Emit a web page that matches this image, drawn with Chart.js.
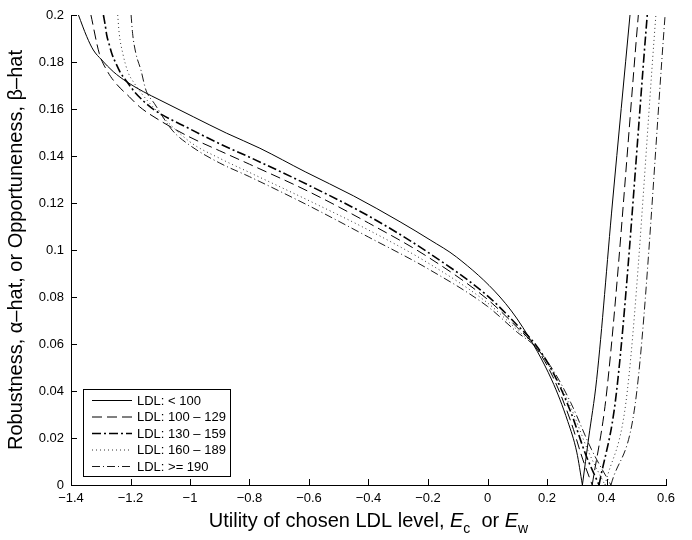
<!DOCTYPE html>
<html>
<head>
<meta charset="utf-8">
<script src="https://cdn.jsdelivr.net/npm/chart.js@4.4.0/dist/chart.umd.min.js"></script>
<style>
html, body { margin: 0; padding: 0; background: #fff; }
canvas { display: block; }
</style>
</head>
<body>
<canvas id="chart" width="692" height="540"></canvas>
<script>
const groups = ['LDL: < 100', 'LDL: 100 – 129', 'LDL: 130 – 159', 'LDL: 160 – 189', 'LDL: >= 190'];
const xTicks = [-1.4, -1.2, -1, -0.8, -0.6, -0.4, -0.2, 0, 0.2, 0.4, 0.6];
const yTicks = [0, 0.02, 0.04, 0.06, 0.08, 0.1, 0.12, 0.14, 0.16, 0.18, 0.2];

// robustness (left arm) and opportuneness (right arm), one pair per LDL group
const robX1 = [-1.375, -1.347, -1.325, -1.297, -1.258, -1.213, -1.157, -1.101, -0.989, -0.877, -0.765, -0.613, -0.45, -0.294, -0.193, -0.104, 0.042, 0.119, 0.216, 0.27, 0.30, 0.319];
const robY1 = [0.2, 0.1908, 0.1851, 0.1809, 0.1759, 0.1716, 0.1674, 0.1638, 0.1567, 0.1497, 0.1433, 0.1333, 0.123, 0.112, 0.1043, 0.097, 0.080, 0.067, 0.0447, 0.027, 0.014, 0];
const oppX1 = [0.319, 0.34, 0.367, 0.42, 0.479];
const oppY1 = [0, 0.02, 0.045, 0.12, 0.2];

const robX2 = [-1.333, -1.305, -1.277, -1.249, -1.204, -1.17, -1.1, -1.0, -0.9, -0.8, -0.6, -0.4, -0.2, 0, 0.1, 0.16, 0.22, 0.28, 0.32, 0.352];
const robY2 = [0.2, 0.1837, 0.1759, 0.1709, 0.1652, 0.161, 0.155, 0.148, 0.1422, 0.1365, 0.1248, 0.1115, 0.097, 0.079, 0.067, 0.059, 0.046, 0.027, 0.011, 0];
const oppX2 = [0.352, 0.401, 0.507];
const oppY2 = [0, 0.04, 0.2];

const robX3 = [-1.291, -1.285, -1.28, -1.271, -1.262, -1.249, -1.234, -1.212, -1.187, -1.154, -1.12, -1.0, -0.9, -0.8, -0.6, -0.4, -0.2, 0, 0.1, 0.16, 0.22, 0.28, 0.33, 0.375];
const robY3 = [0.2, 0.1957, 0.1915, 0.1872, 0.1833, 0.1794, 0.1755, 0.1716, 0.1674, 0.1631, 0.1596, 0.1515, 0.1452, 0.1395, 0.1275, 0.1145, 0.099, 0.0805, 0.068, 0.06, 0.048, 0.031, 0.013, 0];
const oppX3 = [0.375, 0.434, 0.537];
const oppY3 = [0, 0.04, 0.2];

const robX4 = [-1.243, -1.238, -1.226, -1.209, -1.187, -1.159, -1.125, -1.0, -0.9, -0.8, -0.6, -0.4, -0.2, 0, 0.1, 0.16, 0.22, 0.28, 0.34, 0.395];
const robY4 = [0.2, 0.1922, 0.1837, 0.1759, 0.1709, 0.166, 0.161, 0.146, 0.139, 0.133, 0.121, 0.1085, 0.0945, 0.0775, 0.066, 0.059, 0.048, 0.033, 0.014, 0];
const oppX4 = [0.395, 0.47, 0.566];
const oppY4 = [0, 0.04, 0.2];

const robX5 = [-1.198, -1.193, -1.182, -1.165, -1.148, -1.12, -1.06, -1.0, -0.9, -0.8, -0.6, -0.4, -0.2, 0, 0.1, 0.16, 0.22, 0.28, 0.35, 0.415];
const robY5 = [0.2, 0.1922, 0.1837, 0.1766, 0.168, 0.1624, 0.151, 0.1445, 0.137, 0.1312, 0.1188, 0.1055, 0.092, 0.076, 0.065, 0.059, 0.049, 0.035, 0.015, 0];
const oppX5 = [0.415, 0.502, 0.597];
const oppY5 = [0, 0.04, 0.2];

const styles = [
    { dash: [], width: 1 },
    { dash: [10, 5], width: 1 },
    { dash: [9, 3, 2, 3], width: 1.6 },
    { dash: [1, 3], width: 1 },
    { dash: [8, 3, 1, 3], width: 0.9 }
];

const robX = [robX1, robX2, robX3, robX4, robX5];
const robY = [robY1, robY2, robY3, robY4, robY5];
const oppX = [oppX1, oppX2, oppX3, oppX4, oppX5];
const oppY = [oppY1, oppY2, oppY3, oppY4, oppY5];

const toPoints = (xs, ys) => xs.map((x, i) => ({ x: x, y: ys[i] }));

const datasets = [];
groups.forEach((g, i) => {
    const common = {
        showLine: true,
        pointRadius: 0,
        borderColor: i === 3 ? '#333' : '#000',
        borderWidth: styles[i].width,
        borderDash: styles[i].dash,
        cubicInterpolationMode: 'monotone',
        fill: false
    };
    datasets.push(Object.assign({ label: g, data: toPoints(robX[i], robY[i]) }, common));
    datasets.push(Object.assign({ label: g + ' (opp)', data: toPoints(oppX[i], oppY[i]) }, common));
});

const font = '"Liberation Sans", Arial, sans-serif';
const fmt = v => (v < 0 ? '\u2212' + String(-v) : String(v));

const decor = {
    id: 'decor',
    afterDraw(chart) {
        const { ctx, chartArea: a, scales: { x, y } } = chart;
        ctx.save();
        ctx.strokeStyle = '#000';
        ctx.lineWidth = 1;
        ctx.setLineDash([]);
        ctx.beginPath();
        xTicks.forEach(v => {
            const px = Math.round(x.getPixelForValue(v)) + 0.5;
            ctx.moveTo(px, a.bottom);
            ctx.lineTo(px, a.bottom - 6);
        });
        yTicks.forEach(v => {
            const py = Math.round(y.getPixelForValue(v)) + 0.5;
            ctx.moveTo(a.left, py);
            ctx.lineTo(a.left + 6, py);
        });
        ctx.stroke();

        // legend
        const lx = 83.5, ly = 389.5, lw = 147, lh = 87;
        ctx.fillStyle = '#fff';
        ctx.fillRect(lx, ly, lw, lh);
        ctx.strokeRect(lx, ly, lw, lh);
        ctx.font = '13px ' + font;
        ctx.textBaseline = 'middle';
        ctx.textAlign = 'left';
        groups.forEach((g, i) => {
            const ry = 400.5 + i * 16.5;
            ctx.beginPath();
            ctx.strokeStyle = i === 3 ? '#333' : '#000';
            ctx.lineWidth = styles[i].width;
            ctx.setLineDash(styles[i].dash);
            ctx.moveTo(92, ry);
            ctx.lineTo(132, ry);
            ctx.stroke();
            ctx.fillStyle = '#000';
            ctx.fillText(g, 137, ry + 0.5);
        });
        ctx.setLineDash([]);

        // x axis title with italic E and subscripts
        const parts = [
            { t: 'Utility of chosen LDL level, ', f: '20px ' + font, dy: 0 },
            { t: 'E', f: 'italic 20px ' + font, dy: 0 },
            { t: 'c', f: '14px ' + font, dy: 6 },
            { t: '  or ', f: '20px ' + font, dy: 0 },
            { t: 'E', f: 'italic 20px ' + font, dy: 0 },
            { t: 'w', f: '14px ' + font, dy: 6 }
        ];
        let total = 0;
        parts.forEach(p => { ctx.font = p.f; p.w = ctx.measureText(p.t).width; total += p.w; });
        let cx = (a.left + a.right) / 2 - total / 2;
        ctx.textBaseline = 'alphabetic';
        ctx.fillStyle = '#000';
        parts.forEach(p => {
            ctx.font = p.f;
            ctx.fillText(p.t, cx, 527 + p.dy);
            cx += p.w;
        });

        // y axis title
        ctx.translate(22, (a.top + a.bottom) / 2);
        ctx.rotate(-Math.PI / 2);
        ctx.font = '20px ' + font;
        ctx.textAlign = 'center';
        ctx.fillText('Robustness, \u03b1\u2013hat, or Opportuneness, \u03b2\u2013hat', 0, 0);
        ctx.restore();
    }
};

new Chart(document.getElementById('chart'), {
    type: 'scatter',
    data: { datasets: datasets },
    options: {
        responsive: false,
        animation: false,
        layout: { padding: { top: 15, right: 26, left: 0, bottom: 0 } },
        plugins: { legend: { display: false }, tooltip: { enabled: false } },
        scales: {
            x: {
                type: 'linear',
                min: -1.4,
                max: 0.6,
                afterBuildTicks: s => { s.ticks = xTicks.map(v => ({ value: v })); },
                afterFit: s => { s.height = 55; },
                grid: { display: false, drawTicks: false },
                border: { display: true, color: '#000', width: 1 },
                ticks: { color: '#000', font: { family: font, size: 13 }, padding: 6, maxRotation: 0, callback: v => fmt(v) }
            },
            y: {
                type: 'linear',
                min: 0,
                max: 0.2,
                afterBuildTicks: s => { s.ticks = yTicks.map(v => ({ value: v })); },
                afterFit: s => { s.width = 71; },
                grid: { display: false, drawTicks: false },
                border: { display: true, color: '#000', width: 1 },
                ticks: { color: '#000', font: { family: font, size: 13 }, padding: 7, callback: v => fmt(v) }
            }
        }
    },
    plugins: [decor]
});
</script>
</body>
</html>
